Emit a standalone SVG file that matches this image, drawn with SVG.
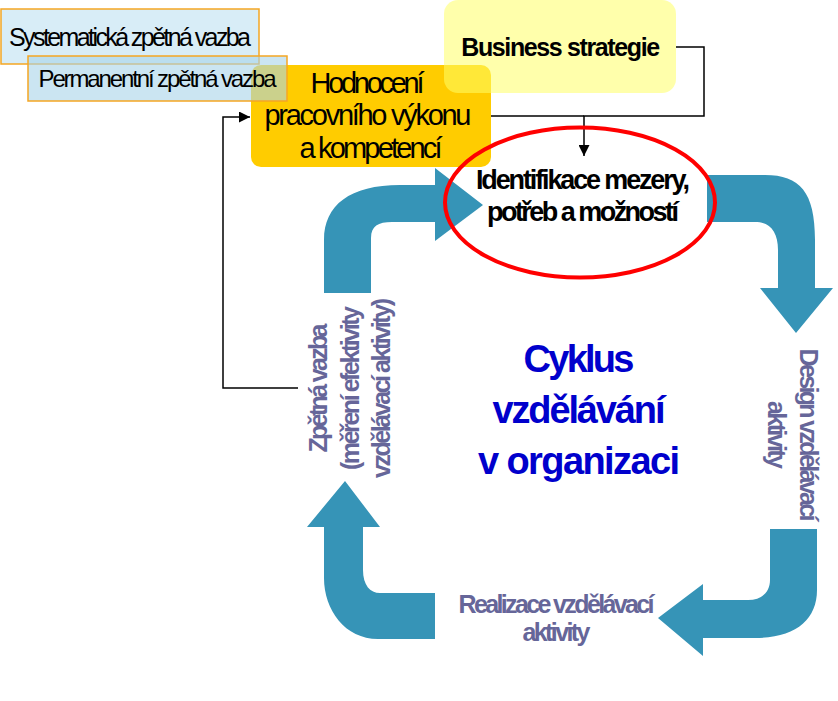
<svg xmlns="http://www.w3.org/2000/svg" width="838" height="701" viewBox="0 0 838 701">
<defs>
<style>
text{font-family:"Liberation Sans",Arial,sans-serif;text-anchor:middle;lengthAdjust:spacingAndGlyphs}
.blk{fill:#000}
.stage{fill:#666699;font-weight:bold;font-size:25px}
.center{fill:#0000cc;font-weight:bold;font-size:38px}
.teal{fill:#3694b7}
.line{fill:none;stroke:#000;stroke-width:1.5}
.fb{stroke:#f5a623;stroke-width:1.5}
</style>
<marker id="ah" viewBox="0 0 10 10" refX="10" refY="5" markerWidth="11" markerHeight="11" markerUnits="userSpaceOnUse" orient="auto">
<path d="M0,0 L10,5 L0,10 Z" fill="#000"/>
</marker>
</defs>
<rect width="838" height="701" fill="#fff"/>

<g id="connectors">
<g id="cycle-arrows">
<path class="teal" d="M324,293 L324,240 C324,205 350,185 400,185 L435,185 L435,168 L483,205 L435,241 L435,222 L392,222 C378,222 371,226 371,238 L371,293 Z"/>
<path class="teal" d="M707,175 L765,175 C800,175 815,192 815,240 L815,288 L833,288 L796,333 L760,288 L778,288 L778,250 C778,232 770,222 755,222 L707,222 Z"/>
<path class="teal" d="M770,529 L817,529 L817,590 C817,620 795,638 755,638 L703,638 L703,656 L658,618 L703,584 L703,600 L748,600 C762,600 770,592 770,580 Z"/>
<path class="teal" d="M435,593 L435,639 L378,639 C345,639 324,610 324,578 L324,527 L307,527 L345,481 L380,527 L363,527 L363,570 C363,585 370,593 380,593 Z"/>
</g>
<path class="line" d="M676,47 H704 V116 H584 V156" marker-end="url(#ah)"/>
<path class="line" d="M491,116 H584"/>
<path class="line" d="M298,388 H223 V117 H250" marker-end="url(#ah)"/>
</g>

<g id="hodnoceni">
<rect x="251" y="65" width="240" height="102" rx="10" fill="#ffcc00"/>
<text class="blk" font-size="29" x="367.5" y="93" textLength="114">Hodnocení</text>
<text class="blk" font-size="29" x="368" y="125" textLength="207">pracovního výkonu</text>
<text class="blk" font-size="29" x="371" y="158" textLength="143">a kompetencí</text>
</g>

<g id="business">
<rect x="444" y="0" width="232" height="93" rx="14" fill="#ffff66" fill-opacity="0.55"/>
<text class="blk" font-size="25" font-weight="bold" x="560.7" y="56" textLength="199">Business strategie</text>
</g>

<g id="systematicka">
<rect class="fb" x="1" y="9" width="258" height="55" fill="#d8edf7"/>
<text class="blk" font-size="25" x="130" y="46" textLength="242">Systematická zpětná vazba</text>
</g>

<g id="permanentni">
<rect class="fb" x="28" y="56" width="259" height="45" fill="#a8d4ea" fill-opacity="0.6"/>
<text class="blk" font-size="24" x="157.5" y="87" textLength="238">Permanentní zpětná vazba</text>
</g>

<g id="identifikace">
<ellipse cx="580" cy="202.5" rx="135" ry="75" fill="none" stroke="#ff0000" stroke-width="4"/>
<text class="blk" font-size="27" font-weight="bold" x="583" y="189" textLength="214">Identifikace mezery,</text>
<text class="blk" font-size="27" font-weight="bold" x="583" y="221" textLength="192">potřeb a možností</text>
</g>

<g id="cyklus">
<text class="center" x="579" y="372" textLength="111">Cyklus</text>
<text class="center" x="579" y="423" textLength="173">vzdělávání</text>
<text class="center" x="579" y="474" textLength="202">v organizaci</text>
</g>

<g id="design">
<text class="stage" transform="translate(800,435) rotate(90)" x="0" y="0" textLength="173">Design vzdělávací</text>
<text class="stage" transform="translate(768,435) rotate(90)" x="0" y="0" textLength="68">aktivity</text>
</g>

<g id="realizace">
<text class="stage" x="556.5" y="613" textLength="196">Realizace vzdělávací</text>
<text class="stage" x="556.5" y="641" textLength="68">aktivity</text>
</g>

<g id="zpetna">
<text class="stage" transform="translate(327,388) rotate(-90)" x="0" y="0" textLength="129">Zpětná vazba</text>
<text class="stage" transform="translate(359,388) rotate(-90)" x="0" y="0" textLength="164">(měření efektivity</text>
<text class="stage" transform="translate(390,388) rotate(-90)" x="0" y="0" textLength="180">vzdělávací aktivity)</text>
</g>
</svg>
